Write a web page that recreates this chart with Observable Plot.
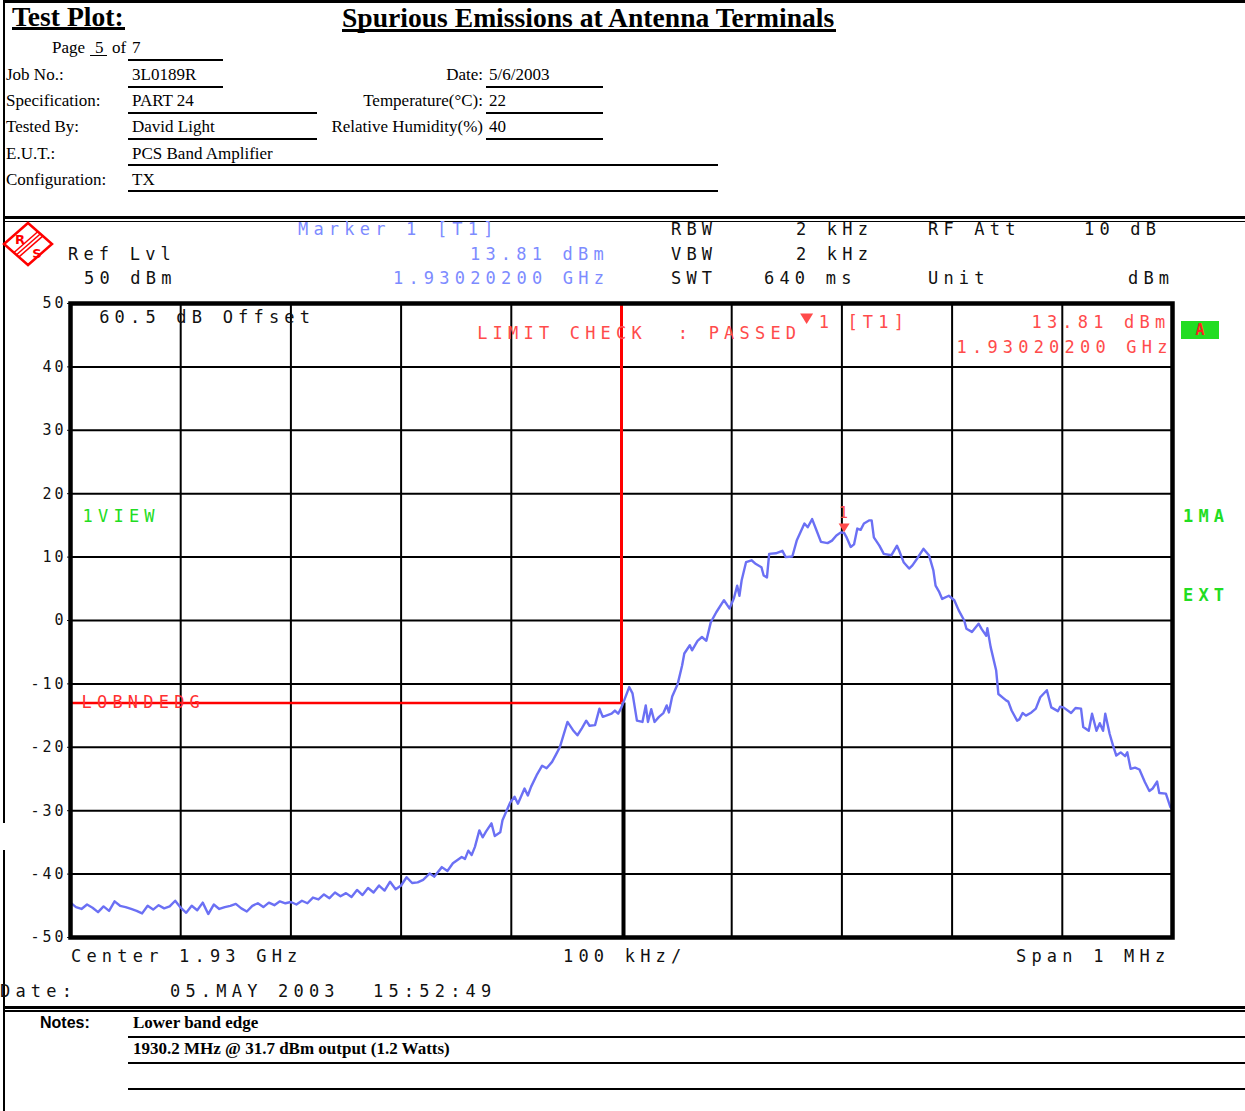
<!DOCTYPE html>
<html>
<head>
<meta charset="utf-8">
<script src="https://cdn.jsdelivr.net/npm/d3@7"></script>
<script src="https://cdn.jsdelivr.net/npm/@observablehq/plot@0.6"></script>
<style>
  body { margin: 0; background: #fff; }
  #page { position: relative; width: 1245px; height: 1111px; overflow: hidden; background: #fff; }
  .t { position: absolute; white-space: pre; }
  .serif { font-family: "Liberation Serif", "Times New Roman", serif; font-size: 17px; line-height: 16px; color: #000; }
  .title { font-family: "Liberation Serif", "Times New Roman", serif; font-weight: bold; font-size: 27.6px; line-height: 28px; color: #000; }
  .mono { font-family: "DejaVu Sans Mono", monospace; font-size: 17px; line-height: 16px; letter-spacing: 5.2px; color: #111; }
  .blue { color: #7d8bff; }
  .green { color: #22dd22; font-weight: bold; }
  .hl { position: absolute; background: #000; }
  #chart { position: absolute; left: 0; top: 220px; }
  #chart g[aria-label="text"] { letter-spacing: 5.2px; }
</style>
</head>
<body>
<div id="page">
  <!-- page frame -->
  <div class="hl" style="left:3px;top:0;width:1242px;height:2.5px"></div>
  <div class="hl" style="left:3px;top:0;width:2px;height:823px"></div>
  <div class="hl" style="left:3px;top:850px;width:2px;height:261px"></div>
  <div class="hl" style="left:3px;top:216px;width:1242px;height:3px"></div>
  <div class="hl" style="left:3px;top:220.5px;width:1242px;height:1.5px"></div>
  <div class="hl" style="left:3px;top:1005.5px;width:1242px;height:3px"></div>
  <div class="hl" style="left:3px;top:1010px;width:1242px;height:1.5px"></div>

  <!-- header -->
  <div class="t title" style="left:12px;top:3px">Test Plot:</div>
  <div class="hl" style="left:12px;top:27px;width:113px;height:2.5px"></div>
  <div class="t title" style="left:342px;top:4px">Spurious Emissions at Antenna Terminals</div>
  <div class="hl" style="left:342px;top:29px;width:494px;height:3px"></div>

  <div class="t serif" style="left:52px;top:40px">Page</div>
  <div class="t serif" style="left:95px;top:40px">5</div>
  <div class="hl" style="left:90px;top:55px;width:17px;height:1px"></div>
  <div class="t serif" style="left:112px;top:40px">of</div>
  <div class="t serif" style="left:132px;top:40px">7</div>
  <div class="hl" style="left:128px;top:59px;width:95px;height:2px"></div>

  <div class="t serif" style="left:6px;top:67px">Job No.:</div>
  <div class="t serif" style="left:132px;top:67px">3L0189R</div>
  <div class="hl" style="left:128px;top:86px;width:95px;height:2px"></div>
  <div class="t serif" style="right:762px;top:67px">Date:</div>
  <div class="t serif" style="left:489px;top:67px">5/6/2003</div>
  <div class="hl" style="left:486px;top:86px;width:117px;height:2px"></div>

  <div class="t serif" style="left:6px;top:93px">Specification:</div>
  <div class="t serif" style="left:132px;top:93px">PART 24</div>
  <div class="hl" style="left:128px;top:112px;width:189px;height:2px"></div>
  <div class="t serif" style="right:762px;top:93px">Temperature(°C):</div>
  <div class="t serif" style="left:489px;top:93px">22</div>
  <div class="hl" style="left:486px;top:112px;width:117px;height:2px"></div>

  <div class="t serif" style="left:6px;top:119px">Tested By:</div>
  <div class="t serif" style="left:132px;top:119px">David Light</div>
  <div class="hl" style="left:128px;top:138px;width:189px;height:2px"></div>
  <div class="t serif" style="right:762px;top:119px">Relative Humidity(%)</div>
  <div class="t serif" style="left:489px;top:119px">40</div>
  <div class="hl" style="left:486px;top:138px;width:117px;height:2px"></div>

  <div class="t serif" style="left:6px;top:146px">E.U.T.:</div>
  <div class="t serif" style="left:132px;top:146px">PCS Band Amplifier</div>
  <div class="hl" style="left:128px;top:164px;width:590px;height:2px"></div>

  <div class="t serif" style="left:6px;top:172px">Configuration:</div>
  <div class="t serif" style="left:132px;top:172px">TX</div>
  <div class="hl" style="left:128px;top:190px;width:590px;height:2px"></div>

  <!-- R&S logo -->
  <svg style="position:absolute;left:2px;top:221px" width="52" height="46" viewBox="0 0 52 46">
    <g fill="none" stroke="#f00" stroke-width="2.5" stroke-linejoin="miter">
      <polygon points="26,2 50,23 26,44 2,23"/>
    </g>
    <g fill="none" stroke="#f00" stroke-width="1.5">
      <line x1="36" y1="10.5" x2="12" y2="31.5"/>
      <line x1="38.5" y1="12.7" x2="14.5" y2="33.7"/>
      <line x1="41" y1="14.9" x2="17" y2="35.9"/>
    </g>
    <text x="18" y="23" fill="#f00" font-family="DejaVu Sans" font-size="13" font-weight="bold" text-anchor="middle">R</text>
    <text x="35" y="37" fill="#f00" font-family="DejaVu Sans" font-size="13" font-weight="bold" text-anchor="middle">S</text>
  </svg>

  <div id="chart"></div>
  <div id="anno"></div>

  <!-- notes -->
  <div class="t" style="left:40px;top:1015px;font-family:'Liberation Sans',Arial,sans-serif;font-weight:bold;font-size:16px;line-height:16px">Notes:</div>
  <div class="t serif" style="left:133px;top:1014px;font-weight:bold;font-size:17px;line-height:17px">Lower band edge</div>
  <div class="hl" style="left:128px;top:1035.5px;width:1117px;height:2px"></div>
  <div class="t serif" style="left:133px;top:1040px;font-weight:bold;font-size:17px;line-height:17px">1930.2 MHz @ 31.7 dBm output (1.2 Watts)</div>
  <div class="hl" style="left:128px;top:1061.5px;width:1117px;height:2px"></div>
  <div class="hl" style="left:128px;top:1087.5px;width:1117px;height:2.5px"></div>
</div>

<script>
// ---- instrument settings ----
const refLevelDbm = 50;
const offsetDb = 60.5;
const rbwKHz = 2, vbwKHz = 2, sweepMs = 640, rfAttDb = 10;
const centerGHz = 1.93, spanMHz = 1, divKHz = 100;
const markerKHz = 202;           // offset from centre, 1.93020200 GHz
const markerDbm = 13.81;
const limitDbm = -13;            // LOBNDEDG limit line
const limitEdgeKHz = 0;          // band edge at centre frequency

// ---- grid / ticks ----
const levelTicks = [50, 40, 30, 20, 10, 0, -10, -20, -30, -40, -50];
const gridLevels = [40, 30, 20, 10, 0, -10, -20, -30, -40];
const gridFreqs = [-400, -300, -200, -100, 100, 200, 300, 400];

// ---- trace (frequency offset from centre, kHz) ----
const freqKHz = [
  -500,-495,-490,-485,-480,-475,-470,-465,-460,-455,
  -450,-445,-440,-435,-430,-425,-420,-415,-410,-405,
  -400,-395,-390,-385,-380,-375,-370,-365,-360,-355,
  -350,-345,-340,-335,-330,-325,-320,-315,-310,-305,
  -300,-295,-290,-285,-280,-275,-270,-265,-260,-255,
  -250,-245,-240,-235,-230,-225,-220,-215,-210,-205,
  -200,-195,-190,-185,-180,-174,-170,-163,-158,-153,
  -145,-142,-139,-136,-133,-129,-126,-123,-118,-115,
  -110,-108,-101,-97,-94,-88,-85,-82,-77,-72,
  -68,-63,-59,-56,-49,-44,-40,-36,-32,-29,
  -24,-20,-17,-9,-6,-3,0,7,10,14,
  19,22,24,27,30,34,38,41,43,46,
  51,55,57,62,64,69,73,77,81,86,
  93,98,102,105,107,109,113,118,122,127,
  129,132,134,140,143,146,149,155,159,166,
  169,173,177,181,187,191,195,199,202,204,
  208,211,214,217,220,225,227,229,234,238,
  245,250,252,256,261,264,268,274,279,283,
  285,288,291,297,302,306,311,313,318,324,
  327,331,332,335,340,342,349,351,354,359,
  361,364,367,372,376,380,386,390,396,398,
  401,408,412,417,419,424,427,431,434,437,
  439,443,446,449,453,457,459,462,466,470,
  475,479,482,486,488,494,498,500
];
const levelDbm = [
  -44.5,-45.2,-45.5,-44.8,-45.3,-46.0,-45.1,-45.8,-44.3,-45.0,
  -45.2,-45.5,-45.8,-46.2,-45.0,-45.6,-44.9,-45.4,-45.1,-44.2,
  -45.3,-46.1,-45.0,-45.7,-44.5,-46.3,-44.8,-45.5,-45.2,-45.0,
  -44.7,-45.4,-45.9,-45.0,-44.6,-45.2,-44.5,-44.9,-44.3,-44.6,
  -44.4,-44.8,-44.2,-44.6,-43.7,-44.0,-43.2,-43.8,-42.9,-43.5,
  -43.0,-43.6,-42.5,-43.3,-42.2,-42.9,-41.8,-42.6,-41.2,-42.4,
  -41.8,-40.5,-41.4,-41.3,-40.9,-39.9,-40.4,-38.9,-39.5,-38.3,
  -37.3,-37.6,-36.3,-37.0,-35.7,-33.1,-34.2,-33.3,-32.0,-34.0,
  -33.4,-31.5,-28.7,-27.8,-28.9,-26.5,-27.6,-26.2,-24.4,-22.9,
  -23.3,-22.3,-21.0,-20.0,-16.0,-17.3,-18.1,-17.0,-15.8,-16.6,
  -16.5,-13.9,-15.2,-14.7,-14.2,-14.7,-13.7,-10.5,-11.5,-15.8,
  -16.0,-13.4,-16.0,-14.0,-16.0,-15.2,-14.6,-13.4,-14.5,-12.0,
  -10.0,-7.1,-5.2,-3.9,-4.7,-3.2,-2.6,-3.2,-0.3,1.3,
  3.2,1.9,3.5,5.5,3.9,6.3,9.2,9.5,8.9,8.4,
  7.1,6.8,10.5,10.6,10.8,11.0,10.0,10.1,12.6,15.3,
  14.7,16.0,14.2,12.4,12.2,12.6,13.4,13.9,13.81,13.2,
  11.6,12.0,14.5,14.3,15.3,15.8,15.8,13.1,11.8,10.5,
  10.3,11.8,11.0,9.2,8.2,8.7,9.7,11.3,10.3,7.9,
  5.5,4.6,3.4,3.9,3.2,1.6,0.0,-1.3,-1.8,-0.5,
  -1.4,-2.4,-1.2,-4.2,-7.9,-11.6,-12.6,-12.8,-14.2,-15.8,
  -15.6,-14.6,-15.0,-14.5,-13.9,-12.1,-11.0,-13.7,-14.3,-13.6,
  -13.7,-14.6,-13.8,-13.9,-16.8,-17.4,-14.7,-17.4,-16.2,-17.4,
  -14.7,-17.9,-19.7,-21.3,-20.8,-21.4,-20.8,-23.4,-23.2,-23.5,
  -25.5,-26.9,-26.5,-25.4,-27.2,-27.3,-29.4,-29.8
];

const trace = freqKHz.map((f, i) => ({f, dbm: levelDbm[i]}));

const RED = "#ff4b4b";
const markerFreqText = (centerGHz + markerKHz / 1e6).toFixed(8) + " GHz";
const markerLevelText = markerDbm.toFixed(2) + " dBm";

// in-screen annotations (positioned in data coordinates)
const screenTexts = [
  {f: -474, dbm: 47.8, text: `${offsetDb} dB Offset`, fill: "#111", weight: "normal"},
  {f: -131, dbm: 45.3, text: "LIMIT CHECK  : PASSED", fill: RED, weight: "normal"},
  {f: 179, dbm: 47.0, text: "1", fill: RED, weight: "normal"},
  {f: 205, dbm: 47.0, text: "[T1]", fill: RED, weight: "normal"},
  {f: 372, dbm: 47.0, text: markerLevelText, fill: RED, weight: "normal"},
  {f: 304, dbm: 43.1, text: markerFreqText, fill: RED, weight: "normal"},
  {f: -490, dbm: limitDbm, text: "LOBNDEDG", fill: "#ff3030", weight: "normal"},
  {f: -489, dbm: 16.4, text: "1VIEW", fill: "#22dd22", weight: "bold"}
];

const downTriangle = {
  draw(ctx, size) {
    const r = Math.sqrt(size / Math.PI);
    ctx.moveTo(-r, -r * 0.8);
    ctx.lineTo(r, -r * 0.8);
    ctx.lineTo(0, r * 0.8);
    ctx.closePath();
  }
};

const chart = Plot.plot({
  width: 1245,
  height: 786,
  marginLeft: 70,
  marginRight: 73,
  marginTop: 83,
  marginBottom: 69,
  x: {domain: [-spanMHz * 500, spanMHz * 500], axis: null},
  y: {domain: [-50, refLevelDbm], ticks: levelTicks, tickSize: 3, tickPadding: 1,
      tickFormat: d => String(d), label: null},
  style: {fontFamily: "DejaVu Sans Mono, monospace", fontSize: "15px", letterSpacing: "3px",
          color: "#111", background: "transparent", overflow: "visible"},
  marks: [
    Plot.ruleY(gridLevels, {stroke: "#000", strokeWidth: 2}),
    Plot.ruleX(gridFreqs, {stroke: "#000", strokeWidth: 2}),
    Plot.ruleX([limitEdgeKHz], {y1: -50, y2: limitDbm, stroke: "#000", strokeWidth: 4, dx: 2}),
    Plot.ruleX([limitEdgeKHz], {y1: limitDbm, y2: refLevelDbm, stroke: "#ff0000", strokeWidth: 3}),
    Plot.ruleY([limitDbm], {x1: -500, x2: limitEdgeKHz, stroke: "#ff0000", strokeWidth: 2.5}),
    Plot.line(trace, {x: "f", y: "dbm", stroke: "#6b70f4", strokeWidth: 2.4}),
    Plot.frame({stroke: "#000", strokeWidth: 4.5}),
    Plot.text(screenTexts, {x: "f", y: "dbm", text: "text", fill: "fill", fontWeight: "weight",
      textAnchor: "start", fontSize: 17}),
    // marker legend triangle
    Plot.dot([{f: 168, dbm: 47.6}], {x: "f", y: "dbm", symbol: downTriangle, r: 6.5, fill: RED, stroke: "none"}),
    // marker on the trace
    Plot.dot([{f: markerKHz, dbm: markerDbm}], {x: "f", y: "dbm", symbol: downTriangle, r: 5.5, fill: RED, stroke: "none", dy: -5}),
    Plot.text([{f: markerKHz, dbm: markerDbm}], {x: "f", y: "dbm", text: () => "1", fill: RED, fontSize: 15, dy: -20, dx: 2})
  ]
});
document.getElementById("chart").appendChild(chart);

// ---- analyzer screen header / footer text ----
const screenInfo = [
  {x: 298, y: 221, text: "Marker 1 [T1]", cls: "blue"},
  {x: 671, y: 221, text: "RBW", cls: ""},
  {x: 796, y: 221, text: `${rbwKHz} kHz`, cls: ""},
  {x: 928, y: 221, text: "RF Att", cls: ""},
  {x: 1084, y: 221, text: `${rfAttDb} dB`, cls: ""},
  {x: 68, y: 246, text: "Ref Lvl", cls: ""},
  {x: 470, y: 246, text: markerLevelText, cls: "blue"},
  {x: 671, y: 246, text: "VBW", cls: ""},
  {x: 796, y: 246, text: `${vbwKHz} kHz`, cls: ""},
  {x: 84, y: 270, text: `${refLevelDbm} dBm`, cls: ""},
  {x: 393, y: 270, text: markerFreqText, cls: "blue"},
  {x: 671, y: 270, text: "SWT", cls: ""},
  {x: 764, y: 270, text: `${sweepMs} ms`, cls: ""},
  {x: 928, y: 270, text: "Unit", cls: ""},
  {x: 1128, y: 270, text: "dBm", cls: ""},
  {x: 1183, y: 508, text: "1MA", cls: "green"},
  {x: 1183, y: 587, text: "EXT", cls: "green"},
  {x: 71, y: 948, text: `Center ${centerGHz} GHz`, cls: ""},
  {x: 563, y: 948, text: `${divKHz} kHz/`, cls: ""},
  {x: 1016, y: 948, text: `Span ${spanMHz} MHz`, cls: ""},
  {x: 0, y: 983, text: "Date:", cls: ""},
  {x: 170, y: 983, text: "05.MAY 2003", cls: ""},
  {x: 373, y: 983, text: "15:52:49", cls: ""}
];
const anno = document.getElementById("anno");
for (const s of screenInfo) {
  const d = document.createElement("div");
  d.className = "t mono " + s.cls;
  d.style.left = s.x + "px";
  d.style.top = s.y + "px";
  d.textContent = s.text;
  anno.appendChild(d);
}
// trace "A" indicator
const a = document.createElement("div");
a.className = "t";
a.style.cssText = "left:1181px;top:321px;width:38px;height:18px;background:#22dd22;color:#ff2020;" +
  "font-family:'DejaVu Sans Mono',monospace;font-weight:bold;font-size:15px;line-height:18px;text-align:center;";
a.textContent = "A";
anno.appendChild(a);
</script>
</body>
</html>
